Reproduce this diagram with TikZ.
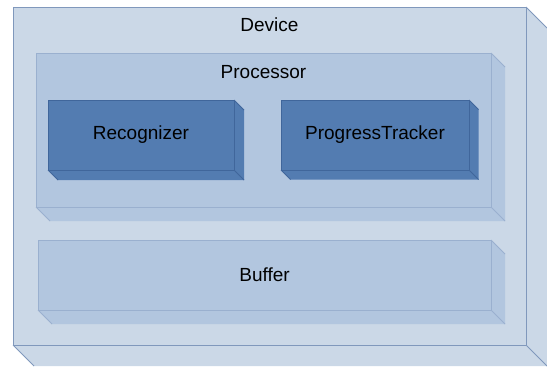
\documentclass[tikz,border=0pt]{standalone}
\usepackage{fontspec}
\setmainfont{Liberation Sans}
\usepackage{tikz}
\usetikzlibrary{calc,positioning}

\definecolor{devfill}{HTML}{CBD8E7}
\definecolor{devline}{HTML}{8098BC}
\definecolor{procfill}{HTML}{B2C6DF}
\definecolor{procline}{HTML}{9AB0CF}
\definecolor{unitfill}{HTML}{537CB1}
\definecolor{unitline}{HTML}{40669B}

\tikzset{
  block/.style={
    shape = rectangle,
    inner sep = 0pt,
    outer sep = 0pt,
    line width = 0.8pt,
    font = \fontsize{19}{22}\selectfont
  },
  device/.style={
    block,
    fill = devfill,
    draw = devline
  },
  processor/.style={
    block,
    fill = procfill,
    draw = procline
  },
  unit/.style={
    block,
    fill = unitfill,
    draw = unitline
  },
  boxtext/.style={
    anchor = base,
    inner sep = 0pt,
    font = \fontsize{19}{22}\selectfont
  }
}

% side and bottom faces of a box node: #1 node, #2 depth, #3 fill, #4 line
\newcommand\sidefaces[4]{%
  \fill[#3] (#1.north east) -- ++(#2,#2) -- ($(#1.south east)+(#2,#2)$)
     -- ($(#1.south west)+(#2,#2)$) -- (#1.south west) -- (#1.south east) -- cycle;
  \draw[#4, line width=0.8pt] (#1.north east) --++ (#2,#2);
  \draw[#4, line width=0.8pt] (#1.south east) --++ (#2,#2);
  \draw[#4, line width=0.8pt] (#1.south west) --++ (#2,#2);
  \draw[#4, line width=0.8pt] (#1.north east) |- (#1.south west);
}

\begin{document}
\begin{tikzpicture}[x=1pt, y=-1pt]
        \useasboundingbox (0,0) rectangle (547,368);

        % outer device
        \node[device, minimum width=513pt, minimum height=338pt] (dev) at (269.5,176) {};
        \sidefaces{dev}{21}{devfill}{devline}
        \node[boxtext] (devlbl) at ([yshift=-24.7pt]dev.north) {Device};

        % processor with its two units
        \node[processor, minimum width=455pt, minimum height=154pt] (proc) at (263.5,130) {};
        \sidefaces{proc}{14}{procfill}{procline}
        \node[boxtext] (proclbl) at ([yshift=-25.3pt]proc.north) {Processor};

        \node[unit, minimum width=186pt, minimum height=70pt] (rec) at (141,135) {Recognizer};
        \sidefaces{rec}{10}{unitfill}{unitline}

        \node[unit, minimum width=188pt, minimum height=70pt] (track) at (375,135) {ProgressTracker};
        \sidefaces{track}{9.5}{unitfill}{unitline}

        % buffer below the processor
        \node[processor, minimum width=453pt, minimum height=70pt] (buf) at (264.5,275) {Buffer};
        \sidefaces{buf}{14}{procfill}{procline}
\end{tikzpicture}
\end{document}
